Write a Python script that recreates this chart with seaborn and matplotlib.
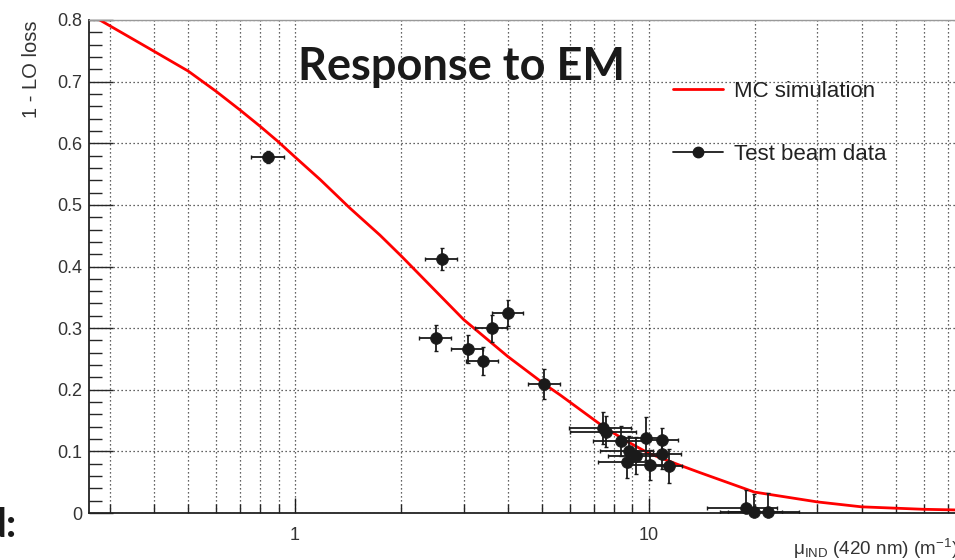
import numpy as np
import matplotlib
matplotlib.use("Agg")
import matplotlib.pyplot as plt
import matplotlib.ticker as mticker
from matplotlib.lines import Line2D
import seaborn as sns

# Curve values (MC simulation)
mc_x = [0.281, 0.398, 0.50, 0.60, 0.70, 0.80, 0.90, 1.0, 1.18, 1.43, 1.74, 2.0,
        3.0, 4.0, 5.08, 5.61, 7.5, 8.65, 10.0, 12.2, 13.9, 19.9, 30.0, 40.0, 60.0, 73.5]
mc_y = [0.800, 0.750, 0.717, 0.684, 0.654, 0.627, 0.602, 0.578, 0.541, 0.495, 0.451, 0.417,
        0.314, 0.254, 0.209, 0.192, 0.139, 0.117, 0.097, 0.078, 0.066, 0.034, 0.018, 0.010, 0.006, 0.005]

# Test beam data
data_x = [0.84, 2.60, 2.50, 3.09, 3.40, 3.60, 4.01, 5.08, 7.45, 7.60, 8.37, 9.85, 10.93,
          8.80, 9.19, 10.93, 8.72, 10.1, 11.42, 18.8, 19.9, 21.7]
data_y = [0.578, 0.412, 0.284, 0.266, 0.247, 0.300, 0.325, 0.209, 0.138, 0.132, 0.117, 0.121,
          0.118, 0.100, 0.093, 0.096, 0.082, 0.078, 0.076, 0.008, 0.001, 0.002]
data_xerr = [0.09, 0.27, 0.26, 0.32, 0.35, 0.37, 0.41, 0.53, 1.5, 1.6, 1.4, 1.3, 1.2,
             1.5, 1.5, 1.4, 1.5, 1.3, 1.0, 4.2, 4.0, 4.9]
data_yerr = [0.010, 0.018, 0.021, 0.023, 0.023, 0.022, 0.021, 0.024, 0.026, 0.025, 0.024, 0.035,
             0.020, 0.025, 0.030, 0.025, 0.025, 0.025, 0.028, 0.030, 0.030, 0.030]

sns.set_theme(style="white")
plt.rcParams['font.family'] = ['Liberation Sans', 'DejaVu Sans']
plt.rcParams['mathtext.fontset'] = 'custom'
plt.rcParams['mathtext.rm'] = 'Liberation Sans'
plt.rcParams['mathtext.it'] = 'Liberation Sans:italic'

W, H = 955, 560
fig = plt.figure(figsize=(W / 100, H / 100), dpi=100)
ax = fig.add_axes([89 / W, 1 - 513 / H, (955 - 89) / W, (513 - 20) / H])

ax.set_xscale('log')
ax.set_xlim(0.262, 73.5)
ax.set_ylim(0, 0.8)

# grid (dotted, ROOT style)
dot = (0, (1, 2.2))
ax.set_axisbelow(True)
ax.grid(which='both', axis='x', linestyle=dot, color='k', linewidth=0.9, alpha=0.9)
ax.grid(which='major', axis='y', linestyle=dot, color='k', linewidth=0.9, alpha=0.9)

# MC curve
sns.lineplot(x=mc_x, y=mc_y, color='red', linewidth=2.0, ax=ax, sort=False,
             estimator=None, legend=False)

# data with error bars
ax.errorbar(data_x, data_y, xerr=data_xerr, yerr=data_yerr, fmt='none',
            ecolor='k', elinewidth=1.3, capsize=1.5, capthick=1.0, zorder=3)
sns.scatterplot(x=data_x, y=data_y, color='k', s=72, edgecolor='k', linewidth=0.5,
                ax=ax, zorder=4, clip_on=False, legend=False)

# ticks
ax.xaxis.set_major_locator(mticker.LogLocator(base=10, numticks=10))
ax.xaxis.set_minor_locator(mticker.LogLocator(base=10, subs=np.arange(2, 10), numticks=20))
ax.xaxis.set_major_formatter(mticker.FuncFormatter(lambda v, p: f"{v:g}"))
ax.xaxis.set_minor_formatter(mticker.NullFormatter())
ax.yaxis.set_major_locator(mticker.MultipleLocator(0.1))
ax.yaxis.set_minor_locator(mticker.MultipleLocator(0.02))
ax.yaxis.set_major_formatter(mticker.FuncFormatter(lambda v, p: "0" if abs(v) < 1e-9 else f"{v:.1f}"))

ax.tick_params(axis='x', which='major', direction='in', length=11, width=1.0, pad=10,
               labelsize=13, colors='k', labelcolor='#333333', bottom=True)
ax.tick_params(axis='x', which='minor', direction='in', length=6.5, width=1.0, bottom=True)
ax.tick_params(axis='y', which='major', direction='in', length=17, width=1.0, pad=5,
               labelsize=13, labelcolor='#333333', left=True)
ax.tick_params(axis='y', which='minor', direction='in', length=9, width=1.0, left=True)

for s in ['left', 'bottom']:
    ax.spines[s].set_color('#222222')
    ax.spines[s].set_linewidth(1.3)
ax.spines['top'].set_color('#999999')
ax.spines['top'].set_linewidth(1.0)
ax.spines['right'].set_visible(False)

# axis labels
ax.set_ylabel('1 - LO loss', fontsize=14.5, color='#333333', loc='top')
ax.yaxis.set_label_coords(-0.055, 1.0)
ax.set_xlabel(r'μ$_{\mathrm{IND}}$ (420 nm) (m$^{-1}$)', fontsize=13.6, color='#333333',
              ha='left')
ax.xaxis.set_label_coords((793 - 89) / 866, -0.048)

# legend
handles = [Line2D([], [], color='red', lw=2.0),
           Line2D([], [], color='k', lw=1.3, marker='o', markersize=7.5)]
leg = ax.legend(handles, ['MC simulation', 'Test beam data'], loc='upper left',
                bbox_to_anchor=(673 / W, 1 - 81 / H), bbox_transform=fig.transFigure,
                frameon=False, fontsize=16, handlelength=2.25, handletextpad=0.5,
                labelspacing=1.9, borderpad=0, borderaxespad=0)
for t in leg.get_texts():
    t.set_color('#222222')

# title drawn inside the frame
fig.text(461 / W, 1 - 80 / H, 'Response to EM', ha='center', va='baseline',
         fontsize=32.5, fontweight='bold', family=['Lato', 'DejaVu Sans'], color='k')

# slide remnant at the left edge
fig.text(17 / W, 1 - 537 / H, 'd:', ha='right', va='baseline', fontsize=29,
         fontweight='bold', family=['Lato', 'DejaVu Sans'], color='k')

fig.savefig('out.png', dpi=100)
